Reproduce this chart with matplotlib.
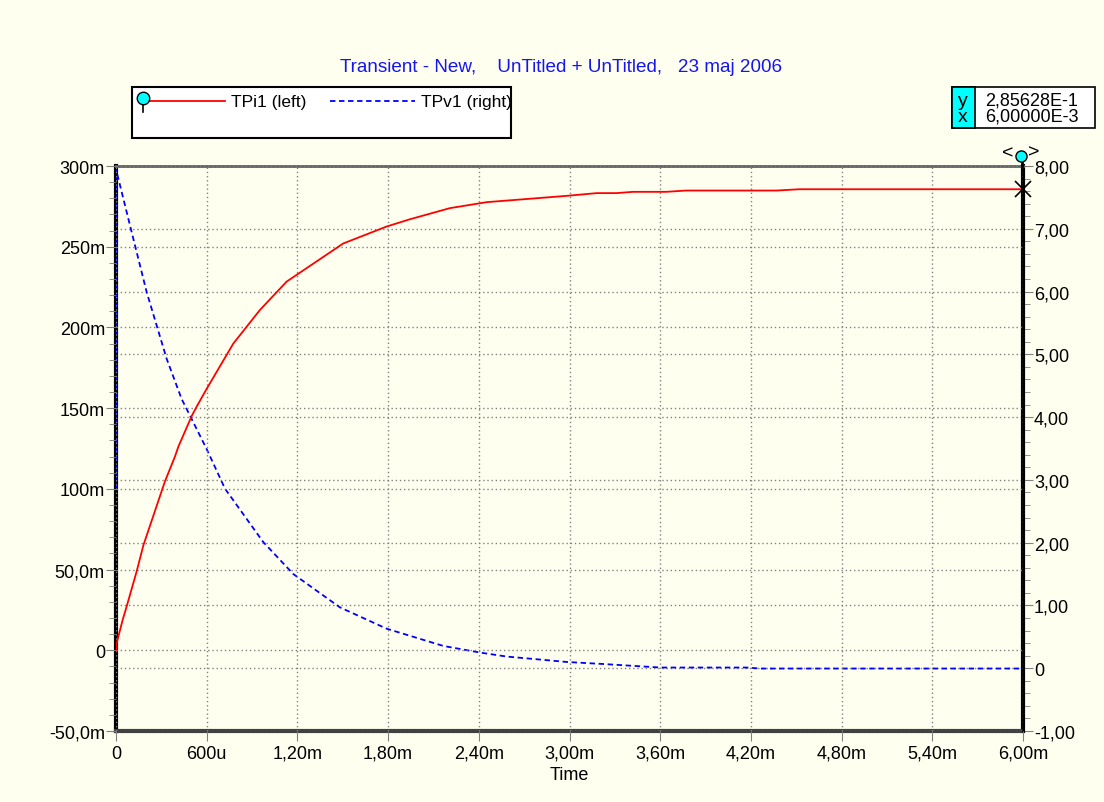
import numpy as np
import matplotlib.pyplot as plt
from matplotlib.patches import Rectangle
from matplotlib.lines import Line2D

plt.rcParams['font.family'] = ['Liberation Sans', 'DejaVu Sans']

# TPi1 (left axis, A) vs time in ms
t_i = [0, 0.004, 0.044, 0.07, 0.137, 0.181, 0.324, 0.39, 0.412, 0.5, 0.534, 0.6,
       0.776, 0.952, 1.129, 1.503, 1.79, 1.944, 2.209, 2.452, 2.98, 3.18, 3.31,
       3.42, 3.64, 3.77, 4.37, 4.52, 6.0]
tpi1 = [0, 4.3, 18.8, 27, 49, 65, 104.7, 120, 126, 145, 151, 162,
        190, 210.8, 228.4, 252, 262.5, 267, 273.9, 277.6, 281.5, 283.2, 283.2,
        284.0, 284.0, 284.8, 284.8, 285.6, 285.6]
tpi1 = np.array(tpi1) / 1000.0

# TPv1 (right axis, V) vs time in ms
t_v = [0, 0, 0.093, 0.203, 0.335, 0.434, 0.6, 0.721, 0.974, 1.173, 1.481, 1.79,
       2.165, 2.407, 2.584, 2.98, 3.245, 3.6, 4.17, 4.26, 6.0]
tpv1 = [2.86, 7.95, 7.05, 5.99, 4.93, 4.29, 3.49, 2.86, 2.01, 1.50, 0.97, 0.63,
        0.355, 0.25, 0.186, 0.10, 0.064, 0.011, 0.011, -0.005, -0.005]

x_ticks = [0, 0.6, 1.2, 1.8, 2.4, 3.0, 3.6, 4.2, 4.8, 5.4, 6.0]
x_labels = ['0', '600u', '1,20m', '1,80m', '2,40m', '3,00m', '3,60m', '4,20m',
            '4,80m', '5,40m', '6,00m']
l_ticks = [-0.05, 0, 0.05, 0.1, 0.15, 0.2, 0.25, 0.3]
l_labels = ['-50,0m', '0', '50,0m', '100m', '150m', '200m', '250m', '300m']
r_ticks = [-1, 0, 1, 2, 3, 4, 5, 6, 7, 8]
r_labels = ['-1,00', '0', '1,00', '2,00', '3,00', '4,00', '5,00', '6,00', '7,00', '8,00']

W, H = 1104, 803
bg = '#FFFFF0'
fig = plt.figure(figsize=(W / 100, H / 100), dpi=100, facecolor=bg)


def px(x, y):
    return x / W, 1 - y / H


ax = fig.add_axes([116 / W, 1 - 732 / H, (1023 - 116) / W, (732 - 167) / H])
ax2 = ax.twinx()
ax.set_zorder(ax2.get_zorder() + 1)
ax.patch.set_visible(False)
ax2.set_facecolor('white')

grid_kw = dict(color='#808080', linestyle=(0, (1, 2)), linewidth=1)
fs = 13

# left axis
ax.set_xlim(0, 6.0)
ax.set_ylim(-0.05, 0.3)
ax.set_xticks(x_ticks)
ax.set_xticklabels(x_labels)
ax.set_yticks(l_ticks)
ax.set_yticklabels(l_labels)
ax.set_yticks(np.arange(-0.05, 0.3001, 0.01), minor=True)
ax.grid(True, **grid_kw)
ax.tick_params(axis='y', which='major', length=7, color='#808080', labelsize=fs, pad=1)
ax.tick_params(axis='x', which='major', length=7, color='#808080', labelsize=fs, pad=3)
ax.tick_params(axis='y', which='minor', length=5, color='#808080')
ax.set_xlabel('Time', fontsize=fs, labelpad=3)

# right axis
ax2.set_ylim(-1, 8)
ax2.set_yticks(r_ticks)
ax2.set_yticklabels(r_labels)
ax2.set_yticks(np.arange(-1, 8.001, 0.2), minor=True)
ax2.grid(True, axis='y', **grid_kw)
ax2.tick_params(axis='y', which='major', length=7, color='#808080', labelsize=fs, pad=1)
ax2.tick_params(axis='y', which='minor', length=5, color='#808080')

for s in ('left', 'right', 'top', 'bottom'):
    ax.spines[s].set_visible(False)
ax2.spines['left'].set_linewidth(3)
ax2.spines['right'].set_linewidth(3)
ax2.spines['left'].set_color('black')
ax2.spines['right'].set_color('black')
ax2.spines['top'].set_color('#606060')
ax2.spines['top'].set_linestyle((0, (1, 1)))
ax2.spines['top'].set_linewidth(2)
ax2.spines['bottom'].set_color('#404040')
ax2.spines['bottom'].set_linestyle((0, (1, 1)))
ax2.spines['bottom'].set_linewidth(3)

ax2.plot(t_v, tpv1, color='#0000FF', linestyle=(0, (3, 2)), linewidth=1.3, zorder=3)
ax.plot(t_i, tpi1, color='#FF0000', linewidth=1.3)

# cursor cross at the end of TPi1
ax.plot(t_i[-1], tpi1[-1], marker='x', markersize=11, markeredgewidth=1.2,
        color='black', clip_on=False, zorder=10)

# title
fig.text(*px(561, 67), 'Transient - New,    UnTitled + UnTitled,   23 maj 2006',
         color='#1515F0', fontsize=13.6, ha='center', va='center')

# legend box
fig.add_artist(Rectangle(px(132, 139), (511 - 132) / W, (139 - 88) / H,
                         transform=fig.transFigure, facecolor='white',
                         edgecolor='black', linewidth=1.5))
fig.add_artist(Line2D([px(143, 0)[0]] * 2, [px(0, 100)[1], px(0, 113)[1]],
                      transform=fig.transFigure, color='black', linewidth=1.2))
fig.add_artist(Line2D([px(148, 0)[0], px(225, 0)[0]], [px(0, 102)[1]] * 2,
                      transform=fig.transFigure, color='#FF0000', linewidth=1.3))
fig.add_artist(Line2D([px(143, 0)[0]], [px(0, 99)[1]], transform=fig.transFigure,
                      marker='o', markersize=9, markerfacecolor='#00FFFF',
                      markeredgecolor='black', markeredgewidth=1))
fig.text(*px(231, 103), 'TPi1 (left)', fontsize=12.5, va='center')
fig.add_artist(Line2D([px(330, 0)[0], px(415, 0)[0]], [px(0, 102)[1]] * 2,
                      transform=fig.transFigure, color='#0000FF',
                      linestyle=(0, (3, 2)), linewidth=1.3))
fig.text(*px(421, 103), 'TPv1 (right)', fontsize=12.5, va='center')

# cursor readout box
fig.add_artist(Rectangle(px(952, 129), (1095 - 952) / W, (129 - 88) / H,
                         transform=fig.transFigure, facecolor='white',
                         edgecolor='black', linewidth=1.2))
fig.add_artist(Rectangle(px(952, 129), (975 - 952) / W, (129 - 88) / H,
                         transform=fig.transFigure, facecolor='#00FFFF',
                         edgecolor='black', linewidth=1.2))
fig.text(*px(963, 101), 'y', fontsize=14, ha='center', va='center')
fig.text(*px(963, 117), 'x', fontsize=14, ha='center', va='center')
fig.text(*px(985, 101), '2,85628E-1', fontsize=fs, va='center')
fig.text(*px(985, 117), '6,00000E-3', fontsize=fs, va='center')

# cursor handle above right axis
fig.add_artist(Line2D([px(1022, 0)[0]] * 2, [px(0, 160)[1], px(0, 167)[1]],
                      transform=fig.transFigure, color='black', linewidth=2))
fig.add_artist(Line2D([px(1021, 0)[0]], [px(0, 157)[1]], transform=fig.transFigure,
                      marker='o', markersize=8, markerfacecolor='#00FFFF',
                      markeredgecolor='black', markeredgewidth=1))
fig.text(*px(1008, 154), '<', fontsize=14, ha='center', va='center')
fig.text(*px(1034, 153), '>', fontsize=14, ha='center', va='center')

fig.savefig('out.png', dpi=100, facecolor=bg)
